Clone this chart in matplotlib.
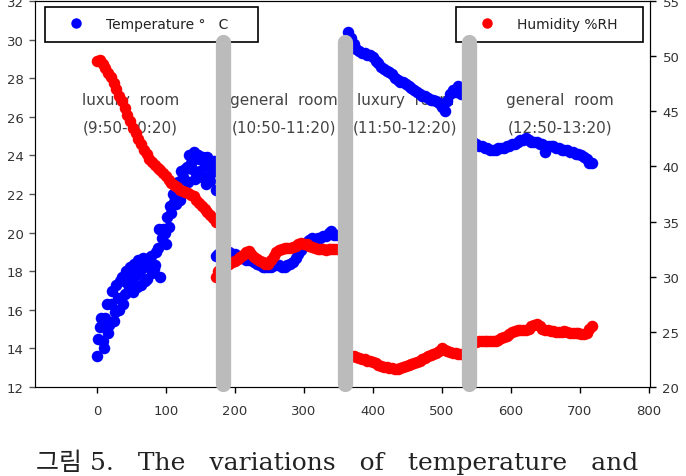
import numpy as np
import matplotlib.pyplot as plt
from matplotlib.lines import Line2D

# ---------------- datos ----------------
# tiempo (eje x) para cada tramo
x_seg1 = np.arange(0, 173, 4)      # luxury room 9:50-10:20
x_seg1b = np.arange(2, 171, 4)     # segunda lectura de temperatura (nube)
x_seg2 = np.arange(172, 349, 4)    # general room 10:50-11:20
x_seg3 = np.arange(364, 529, 4)    # luxury room 11:50-12:20
x_seg4 = np.arange(546, 719, 4)    # general room 12:50-13:20

temp_seg1 = [13.6, 15.1, 14.4, 15.6, 14.8, 16.3, 15.4, 17.3, 16.0, 17.7, 16.8,
             17.4, 18.2, 16.9, 17.8, 18.6, 17.3, 18.4, 17.6, 18.7, 17.9, 18.3,
             19.2, 17.7, 20.2, 19.4, 20.3, 21.0, 21.6, 22.2, 21.7, 22.9, 23.3,
             22.6, 23.6, 24.2, 23.1, 23.8, 22.9, 23.5, 23.9, 22.7, 23.4, 22.2]
temp_seg1b = [14.5, 15.6, 14.0, 16.3, 15.2, 17.0, 15.9, 16.6, 17.5, 16.3,
              18.0, 17.1, 17.6, 18.4, 17.2, 18.0, 18.7, 17.5, 18.2, 18.8,
              18.1, 19.0, 20.2, 19.7, 20.0, 20.8, 21.4, 22.0, 21.5, 22.6,
              23.2, 22.1, 23.4, 24.0, 23.3, 22.8, 24.0, 23.2, 23.9, 22.5,
              23.6, 23.1, 23.7]
hum_seg1 = [49.6, 49.7, 49.3, 48.9, 48.5, 48.1, 47.6, 47.0, 46.4, 45.9, 45.3,
            44.7, 44.1, 43.5, 43.0, 42.5, 42.0, 41.5, 41.1, 40.7, 40.4, 40.1,
            39.9, 39.7, 39.4, 39.1, 38.8, 38.5, 38.3, 38.1, 37.9, 37.8, 37.7,
            37.6, 37.4, 37.3, 37.0, 36.7, 36.4, 36.1, 35.9, 35.6, 35.3, 35.0]

temp_seg2 = [18.8, 18.9, 19.0, 19.1, 19.0, 19.0, 18.9, 18.9, 18.8, 18.7, 18.7,
             18.6, 18.6, 18.6, 18.5, 18.4, 18.3, 18.2, 18.2, 18.2, 18.2, 18.3,
             18.3, 18.3, 18.2, 18.2, 18.3, 18.4, 18.5, 18.7, 18.9, 19.1, 19.3,
             19.5, 19.6, 19.7, 19.6, 19.7, 19.7, 19.8, 19.8, 20.0, 20.1, 19.9, 19.9]
hum_seg2 = [30.0, 30.5, 30.9, 31.0, 31.1, 31.2, 31.3, 31.4, 31.6, 31.8, 32.0,
            32.2, 32.3, 32.1, 31.8, 31.6, 31.4, 31.3, 31.2, 31.2, 31.5, 31.9,
            32.2, 32.4, 32.5, 32.6, 32.6, 32.6, 32.7, 32.8, 33.0, 33.1, 33.0,
            33.0, 32.8, 32.7, 32.6, 32.5, 32.5, 32.5, 32.4, 32.5, 32.5, 32.5, 32.5]

temp_seg3 = [30.4, 30.1, 29.8, 29.5, 29.4, 29.3, 29.3, 29.2, 29.2, 29.1, 28.9,
             28.8, 28.6, 28.5, 28.4, 28.3, 28.2, 28.0, 27.9, 27.8, 27.8, 27.7,
             27.6, 27.5, 27.4, 27.3, 27.2, 27.1, 27.1, 27.0, 26.9, 26.9, 26.8,
             26.7, 26.5, 26.3, 26.8, 27.2, 27.4, 27.3, 27.6, 27.2]
hum_seg3 = [23.0, 22.8, 22.8, 22.7, 22.6, 22.5, 22.5, 22.4, 22.4, 22.3, 22.2,
            22.0, 21.9, 21.8, 21.8, 21.7, 21.7, 21.6, 21.6, 21.7, 21.8, 21.9,
            22.0, 22.1, 22.2, 22.3, 22.4, 22.5, 22.6, 22.8, 22.9, 23.0, 23.1,
            23.3, 23.5, 23.4, 23.3, 23.2, 23.1, 23.1, 23.0, 23.0]

temp_seg4 = [24.7, 24.6, 24.5, 24.5, 24.4, 24.4, 24.3, 24.3, 24.3, 24.4, 24.4,
             24.4, 24.5, 24.5, 24.6, 24.6, 24.7, 24.8, 24.8, 24.9, 24.8, 24.7,
             24.7, 24.7, 24.6, 24.6, 24.2, 24.5, 24.5, 24.5, 24.4, 24.4, 24.3,
             24.3, 24.3, 24.2, 24.2, 24.1, 24.1, 24.0, 23.9, 23.8, 23.6, 23.6]
hum_seg4 = [24.0, 24.1, 24.2, 24.2, 24.2, 24.2, 24.2, 24.2, 24.2, 24.3, 24.4,
            24.5, 24.6, 24.8, 25.0, 25.1, 25.2, 25.2, 25.2, 25.2, 25.3, 25.5,
            25.6, 25.7, 25.5, 25.3, 25.2, 25.2, 25.1, 25.1, 25.0, 25.0, 25.0,
            25.1, 25.0, 24.9, 24.9, 24.9, 24.9, 24.8, 24.8, 24.9, 25.3, 25.5]

# separadores entre salas
bar_x = [183, 360, 540]

room_names = ['luxury  room', 'general  room', 'luxury  room', 'general  room']
room_times = ['(9:50-10:20)', '(10:50-11:20)', '(11:50-12:20)', '(12:50-13:20)']
room_label_x = [48, 271, 447, 672]

# ---------------- figura ----------------
plt.rcParams['font.family'] = ['DejaVu Sans']
fig = plt.figure(figsize=(6.86, 4.77), dpi=100)
ax = fig.add_axes([0.051, 0.1866, 0.8965, 0.809])
ax2 = ax.twinx()

x_all = np.concatenate([x_seg1, x_seg1b, x_seg2, x_seg3, x_seg4])
temp_all = np.concatenate([temp_seg1, temp_seg1b, temp_seg2, temp_seg3, temp_seg4])
x_hum = np.concatenate([x_seg1, x_seg2, x_seg3, x_seg4])
hum_all = np.concatenate([hum_seg1, hum_seg2, hum_seg3, hum_seg4])

ms = 8.3
ax.plot(x_all, temp_all, 'o', color='#0000ff', ms=ms, mec='none', zorder=3)
ax2.plot(x_hum, hum_all, 'o', color='#ff0000', ms=ms, mec='none', zorder=3)

ax.set_xlim(-90, 802)
ax.set_ylim(12, 32)
ax2.set_ylim(20, 55)
ax.set_xticks(range(0, 801, 100))
ax.set_yticks(range(12, 33, 2))
ax2.set_yticks(range(20, 56, 5))

for a in (ax, ax2):
    a.tick_params(labelsize=9.5, labelcolor='#333333', length=4, width=1,
                  direction='out', pad=3)
ax.tick_params(axis='x', pad=8)
ax.tick_params(axis='y', pad=4, color='#555555')
ax2.tick_params(axis='y', pad=5)
for s in ['left', 'bottom']:
    ax.spines[s].set_color('#555555')
ax2.spines['right'].set_color('black')
ax2.spines['top'].set_color('black')

# textos de las salas
for xn, name, tm in zip(room_label_x, room_names, room_times):
    ax.text(xn, 26.92, name, ha='center', va='center', fontsize=11,
            color='#444444', zorder=1)
    ax.text(xn, 25.47, tm, ha='center', va='center', fontsize=11,
            color='#444444', zorder=1)

# leyendas
h_temp = Line2D([], [], ls='none', marker='o', color='#0000ff', ms=7.5, mec='none')
h_hum = Line2D([], [], ls='none', marker='o', color='#ff0000', ms=7.5, mec='none')
leg_kw = dict(loc='upper left', mode='expand', fancybox=False,
              edgecolor='black', fontsize=10, borderpad=0.75,
              handlelength=2.96, handletextpad=0.68, borderaxespad=0,
              framealpha=1)
leg1 = ax2.legend([h_temp], ['Temperature °   C'],
                  bbox_to_anchor=(0.016, 0.4, 0.346, 0.585), **leg_kw)
leg1.get_frame().set_linewidth(1.2)
for t in leg1.get_texts():
    t.set_color('#222222')
ax2.add_artist(leg1)
leg2 = ax2.legend([h_hum], ['Humidity %RH'],
                  bbox_to_anchor=(0.685, 0.4, 0.304, 0.585), **leg_kw)
leg2.get_frame().set_linewidth(1.2)
for t in leg2.get_texts():
    t.set_color('#222222')

# barras grises
trans = ax2.get_xaxis_transform()
for bx in bar_x:
    ax2.plot([bx, bx], [0.009, 0.895], transform=trans, color='#bbbbbb',
             lw=11, solid_capstyle='round', zorder=6, clip_on=False)

# pie de figura (cortado en el original)
fig.text(0.052, 0.03, '그림 5.   The   variations   of   temperature   and',
         fontsize=18, family=['DejaVu Serif', 'Noto Sans CJK KR'],
         color='#222222', va='center', ha='left')

fig.savefig('out.png', dpi=100)
